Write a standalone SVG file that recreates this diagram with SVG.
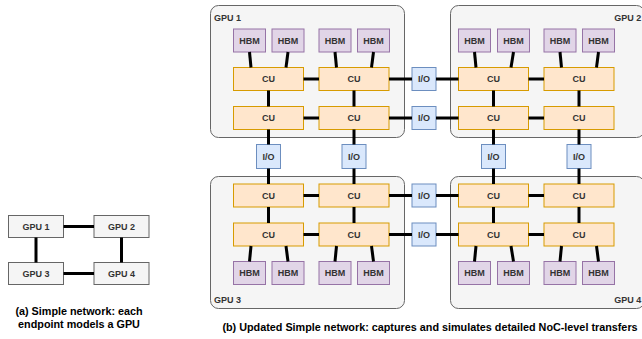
<svg xmlns="http://www.w3.org/2000/svg" width="642" height="339" viewBox="0 0 642 339">
  <style>
    text { font-family: "Liberation Sans", Arial, Helvetica, sans-serif; font-weight: bold; font-size: 9px; fill: #333333; }
    .c { text-anchor: middle; }
    .r { text-anchor: end; }
    .cap { fill: #000000; font-size: 10.8px; }
    .gpu { fill: #f5f5f5; stroke: #666666; stroke-width: 1; }
    .hbm { fill: #e1d5e7; stroke: #9673a6; stroke-width: 1; }
    .cu { fill: #ffe6cc; stroke: #d79b00; stroke-width: 1; }
    .io { fill: #dae8fc; stroke: #6c8ebf; stroke-width: 1; }
    .link { stroke: #000000; stroke-width: 3; fill: none; }
  </style>

  <!-- (a) simple network: one endpoint per GPU -->
  <g id="simple-gpu1"><rect class="gpu" x="8.5" y="215.5" width="55" height="22"/><text class="c" x="36" y="229.7">GPU 1</text></g>
  <g id="simple-gpu2"><rect class="gpu" x="94" y="215.5" width="55" height="22"/><text class="c" x="121.5" y="229.7">GPU 2</text></g>
  <g id="simple-gpu3"><rect class="gpu" x="8.5" y="262.5" width="55" height="22"/><text class="c" x="36" y="276.7">GPU 3</text></g>
  <g id="simple-gpu4"><rect class="gpu" x="94" y="262.5" width="55" height="22"/><text class="c" x="121.5" y="276.7">GPU 4</text></g>
  <g id="simple-links">
    <line class="link" x1="63.5" y1="226.5" x2="94" y2="226.5"/>
    <line class="link" x1="63.5" y1="273.5" x2="94" y2="273.5"/>
    <line class="link" x1="36" y1="237.5" x2="36" y2="262.5"/>
    <line class="link" x1="121.5" y1="237.5" x2="121.5" y2="262.5"/>
  </g>
  <text class="c cap" x="79" y="315">(a) Simple network: each</text>
  <text class="c cap" x="79" y="327.5">endpoint models a GPU</text>

  <!-- (b) NoC-level model: four GPUs with CUs, HBM stacks and I/O ports -->
  <g id="gpu1">
    <rect class="gpu" x="210.5" y="5.5" width="194" height="132" rx="8"/>
    <text x="214" y="20.5">GPU 1</text>
    <g id="gpu1-hbm1"><rect class="hbm" x="233.5" y="29" width="32" height="23"/><text class="c" x="249.5" y="43.7">HBM</text></g>
    <g id="gpu1-hbm2"><rect class="hbm" x="272" y="29" width="32" height="23"/><text class="c" x="288" y="43.7">HBM</text></g>
    <g id="gpu1-hbm3"><rect class="hbm" x="319" y="29" width="32" height="23"/><text class="c" x="335" y="43.7">HBM</text></g>
    <g id="gpu1-hbm4"><rect class="hbm" x="357.5" y="29" width="32" height="23"/><text class="c" x="373.5" y="43.7">HBM</text></g>
    <g id="gpu1-cu1"><rect class="cu" x="233.5" y="67.5" width="70" height="23"/><text class="c" x="268.5" y="82.2">CU</text></g>
    <g id="gpu1-cu2"><rect class="cu" x="319" y="67.5" width="70" height="23"/><text class="c" x="354" y="82.2">CU</text></g>
    <g id="gpu1-cu3"><rect class="cu" x="233.5" y="106.5" width="70" height="23"/><text class="c" x="268.5" y="121.2">CU</text></g>
    <g id="gpu1-cu4"><rect class="cu" x="319" y="106.5" width="70" height="23"/><text class="c" x="354" y="121.2">CU</text></g>
  </g>

  <g id="gpu2">
    <rect class="gpu" x="450.5" y="5.5" width="194" height="132" rx="8"/>
    <text class="r" x="641.3" y="20.5">GPU 2</text>
    <g id="gpu2-hbm1"><rect class="hbm" x="458.5" y="29" width="32" height="23"/><text class="c" x="474.5" y="43.7">HBM</text></g>
    <g id="gpu2-hbm2"><rect class="hbm" x="497.5" y="29" width="32" height="23"/><text class="c" x="513.5" y="43.7">HBM</text></g>
    <g id="gpu2-hbm3"><rect class="hbm" x="544" y="29" width="32" height="23"/><text class="c" x="560" y="43.7">HBM</text></g>
    <g id="gpu2-hbm4"><rect class="hbm" x="582.5" y="29" width="32" height="23"/><text class="c" x="598.5" y="43.7">HBM</text></g>
    <g id="gpu2-cu1"><rect class="cu" x="458.5" y="67.5" width="70" height="23"/><text class="c" x="493.5" y="82.2">CU</text></g>
    <g id="gpu2-cu2"><rect class="cu" x="544" y="67.5" width="70" height="23"/><text class="c" x="579" y="82.2">CU</text></g>
    <g id="gpu2-cu3"><rect class="cu" x="458.5" y="106.5" width="70" height="23"/><text class="c" x="493.5" y="121.2">CU</text></g>
    <g id="gpu2-cu4"><rect class="cu" x="544" y="106.5" width="70" height="23"/><text class="c" x="579" y="121.2">CU</text></g>
  </g>

  <g id="gpu3">
    <rect class="gpu" x="210.5" y="176.5" width="194" height="132" rx="8"/>
    <text x="214" y="302.5">GPU 3</text>
    <g id="gpu3-cu1"><rect class="cu" x="233.5" y="184" width="70" height="23"/><text class="c" x="268.5" y="198.7">CU</text></g>
    <g id="gpu3-cu2"><rect class="cu" x="319" y="184" width="70" height="23"/><text class="c" x="354" y="198.7">CU</text></g>
    <g id="gpu3-cu3"><rect class="cu" x="233.5" y="223" width="70" height="23"/><text class="c" x="268.5" y="237.7">CU</text></g>
    <g id="gpu3-cu4"><rect class="cu" x="319" y="223" width="70" height="23"/><text class="c" x="354" y="237.7">CU</text></g>
    <g id="gpu3-hbm1"><rect class="hbm" x="233.5" y="261.5" width="32" height="23"/><text class="c" x="249.5" y="276.2">HBM</text></g>
    <g id="gpu3-hbm2"><rect class="hbm" x="272" y="261.5" width="32" height="23"/><text class="c" x="288" y="276.2">HBM</text></g>
    <g id="gpu3-hbm3"><rect class="hbm" x="319" y="261.5" width="32" height="23"/><text class="c" x="335" y="276.2">HBM</text></g>
    <g id="gpu3-hbm4"><rect class="hbm" x="357.5" y="261.5" width="32" height="23"/><text class="c" x="373.5" y="276.2">HBM</text></g>
  </g>

  <g id="gpu4">
    <rect class="gpu" x="450.5" y="176.5" width="194" height="132" rx="8"/>
    <text class="r" x="641.3" y="302.5">GPU 4</text>
    <g id="gpu4-cu1"><rect class="cu" x="458.5" y="184" width="70" height="23"/><text class="c" x="493.5" y="198.7">CU</text></g>
    <g id="gpu4-cu2"><rect class="cu" x="544" y="184" width="70" height="23"/><text class="c" x="579" y="198.7">CU</text></g>
    <g id="gpu4-cu3"><rect class="cu" x="458.5" y="223" width="70" height="23"/><text class="c" x="493.5" y="237.7">CU</text></g>
    <g id="gpu4-cu4"><rect class="cu" x="544" y="223" width="70" height="23"/><text class="c" x="579" y="237.7">CU</text></g>
    <g id="gpu4-hbm1"><rect class="hbm" x="458.5" y="261.5" width="32" height="23"/><text class="c" x="474.5" y="276.2">HBM</text></g>
    <g id="gpu4-hbm2"><rect class="hbm" x="497.5" y="261.5" width="32" height="23"/><text class="c" x="513.5" y="276.2">HBM</text></g>
    <g id="gpu4-hbm3"><rect class="hbm" x="544" y="261.5" width="32" height="23"/><text class="c" x="560" y="276.2">HBM</text></g>
    <g id="gpu4-hbm4"><rect class="hbm" x="582.5" y="261.5" width="32" height="23"/><text class="c" x="598.5" y="276.2">HBM</text></g>
  </g>

  <!-- inter-GPU I/O ports -->
  <g id="io-12a"><rect class="io" x="412" y="67.5" width="24" height="23"/><text class="c" x="424" y="82.2">I/O</text></g>
  <g id="io-12b"><rect class="io" x="412" y="106.5" width="24" height="23"/><text class="c" x="424" y="121.2">I/O</text></g>
  <g id="io-34a"><rect class="io" x="412" y="184" width="24" height="23"/><text class="c" x="424" y="198.7">I/O</text></g>
  <g id="io-34b"><rect class="io" x="412" y="223" width="24" height="23"/><text class="c" x="424" y="237.7">I/O</text></g>
  <g id="io-13a"><rect class="io" x="256.5" y="144.5" width="24" height="24"/><text class="c" x="268.5" y="159.7">I/O</text></g>
  <g id="io-13b"><rect class="io" x="342" y="144.5" width="24" height="24"/><text class="c" x="354" y="159.7">I/O</text></g>
  <g id="io-24a"><rect class="io" x="481.5" y="144.5" width="24" height="24"/><text class="c" x="493.5" y="159.7">I/O</text></g>
  <g id="io-24b"><rect class="io" x="567" y="144.5" width="24" height="24"/><text class="c" x="579" y="159.7">I/O</text></g>

  <g id="connectors" class="link">
    <!-- HBM to CU, top GPUs -->
    <line x1="249.5" y1="52" x2="251" y2="67.5"/>
    <line x1="288" y1="52" x2="286" y2="67.5"/>
    <line x1="335" y1="52" x2="336.5" y2="67.5"/>
    <line x1="373.5" y1="52" x2="371.5" y2="67.5"/>
    <line x1="474.5" y1="52" x2="476" y2="67.5"/>
    <line x1="513.5" y1="52" x2="511" y2="67.5"/>
    <line x1="560" y1="52" x2="561.5" y2="67.5"/>
    <line x1="598.5" y1="52" x2="596.5" y2="67.5"/>
    <!-- HBM to CU, bottom GPUs -->
    <line x1="249.5" y1="261.5" x2="251" y2="246"/>
    <line x1="288" y1="261.5" x2="286" y2="246"/>
    <line x1="335" y1="261.5" x2="336.5" y2="246"/>
    <line x1="373.5" y1="261.5" x2="371.5" y2="246"/>
    <line x1="474.5" y1="261.5" x2="476" y2="246"/>
    <line x1="513.5" y1="261.5" x2="511" y2="246"/>
    <line x1="560" y1="261.5" x2="561.5" y2="246"/>
    <line x1="598.5" y1="261.5" x2="596.5" y2="246"/>
    <!-- horizontal CU links and I/O crossings -->
    <line x1="303.5" y1="79" x2="319" y2="79"/>
    <line x1="389" y1="79" x2="412" y2="79"/>
    <line x1="436" y1="79" x2="458.5" y2="79"/>
    <line x1="528.5" y1="79" x2="544" y2="79"/>
    <line x1="303.5" y1="118" x2="319" y2="118"/>
    <line x1="389" y1="118" x2="412" y2="118"/>
    <line x1="436" y1="118" x2="458.5" y2="118"/>
    <line x1="528.5" y1="118" x2="544" y2="118"/>
    <line x1="303.5" y1="195.5" x2="319" y2="195.5"/>
    <line x1="389" y1="195.5" x2="412" y2="195.5"/>
    <line x1="436" y1="195.5" x2="458.5" y2="195.5"/>
    <line x1="528.5" y1="195.5" x2="544" y2="195.5"/>
    <line x1="303.5" y1="234.5" x2="319" y2="234.5"/>
    <line x1="389" y1="234.5" x2="412" y2="234.5"/>
    <line x1="436" y1="234.5" x2="458.5" y2="234.5"/>
    <line x1="528.5" y1="234.5" x2="544" y2="234.5"/>
    <!-- vertical CU links and I/O crossings -->
    <line x1="268.5" y1="90.5" x2="268.5" y2="106.5"/>
    <line x1="268.5" y1="129.5" x2="268.5" y2="144.5"/>
    <line x1="268.5" y1="168.5" x2="268.5" y2="184"/>
    <line x1="268.5" y1="207" x2="268.5" y2="223"/>
    <line x1="354" y1="90.5" x2="354" y2="106.5"/>
    <line x1="354" y1="129.5" x2="354" y2="144.5"/>
    <line x1="354" y1="168.5" x2="354" y2="184"/>
    <line x1="354" y1="207" x2="354" y2="223"/>
    <line x1="493.5" y1="90.5" x2="493.5" y2="106.5"/>
    <line x1="493.5" y1="129.5" x2="493.5" y2="144.5"/>
    <line x1="493.5" y1="168.5" x2="493.5" y2="184"/>
    <line x1="493.5" y1="207" x2="493.5" y2="223"/>
    <line x1="579" y1="90.5" x2="579" y2="106.5"/>
    <line x1="579" y1="129.5" x2="579" y2="144.5"/>
    <line x1="579" y1="168.5" x2="579" y2="184"/>
    <line x1="579" y1="207" x2="579" y2="223"/>
  </g>

  <text class="c cap" x="430" y="330.5">(b) Updated Simple network: captures and simulates detailed NoC-level transfers</text>
</svg>
